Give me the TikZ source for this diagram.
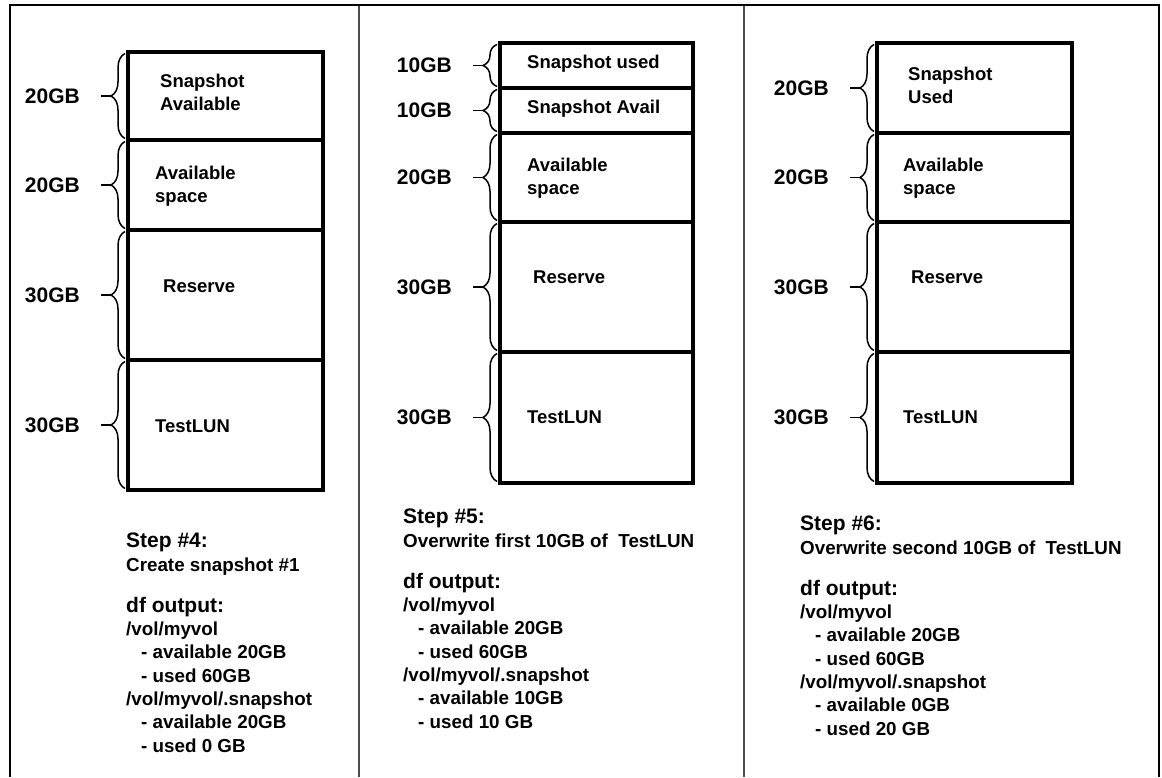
\documentclass[tikz,border=0pt]{standalone}
\usepackage{fontspec}
\setmainfont{Liberation Sans}
\usetikzlibrary{decorations.pathreplacing}

\tikzset{
  seg/.style={draw,line width=3.5pt,minimum width=195pt,anchor=north west,inner sep=0pt,outer sep=0pt},
  segtext/.style={anchor=west,inner sep=0pt,align=left,font=\fontsize{18.5}{23}\selectfont\bfseries},
  gb/.style={anchor=east,inner sep=0pt,font=\fontsize{21}{21}\selectfont\bfseries},
  hd/.style={anchor=base west,inner sep=0pt,font=\fontsize{21}{21}\selectfont\bfseries},
  ln/.style={anchor=base west,inner sep=0pt,font=\fontsize{18.8}{21}\selectfont\bfseries},
  brc/.style={decorate,decoration={brace,amplitude=14pt},line width=1.5pt},
}

\begin{document}
\begin{tikzpicture}[x=1pt,y=-1pt]
  \useasboundingbox (0,0) rectangle (1162,777);

  % frame and separators
  \draw[line width=2pt] (10,777) -- (10,5) -- (1159,5) -- (1159,777);
  \draw[line width=1.5pt,gray!60!black] (359,6) -- (359,777);
  \draw[line width=1.5pt,gray!60!black] (744,6) -- (744,777);

  % step 4
  \node[seg,minimum height=88pt] (a1) at (128,52) {};
  \node[seg,minimum height=90pt] (a2) at (a1.south west) {};
  \node[seg,minimum height=130pt] (a3) at (a2.south west) {};
  \node[seg,minimum height=130pt] (a4) at (a3.south west) {};
  \node[segtext] (a1t) at (160,92) {Snapshot\\Available};
  \node[segtext] (a2t) at (155,186) {Available\\space};
  \node[segtext] (a3t) at (163,286) {Reserve};
  \node[segtext] (a4t) at (155,426) {TestLUN};

  % step 5
  \node[seg,minimum width=193pt,minimum height=45pt] (b1) at (500,43) {};
  \node[seg,minimum width=193pt,minimum height=45pt] (b2) at (b1.south west) {};
  \node[seg,minimum width=193pt,minimum height=89pt] (b3) at (b2.south west) {};
  \node[seg,minimum width=193pt,minimum height=130pt] (b4) at (b3.south west) {};
  \node[seg,minimum width=193pt,minimum height=131pt] (b5) at (b4.south west) {};
  \node[segtext] (b1t) at (527,64) {Snapshot used};
  \node[segtext] (b2t) at (527,109) {Snapshot Avail};
  \node[segtext] (b3t) at (527,178) {Available\\space};
  \node[segtext] (b4t) at (533,277) {Reserve};
  \node[segtext] (b5t) at (527,417) {TestLUN};

  % step 6
  \node[seg,minimum height=90pt] (c1) at (877,43) {};
  \node[seg,minimum height=89pt] (c2) at (c1.south west) {};
  \node[seg,minimum height=130pt] (c3) at (c2.south west) {};
  \node[seg,minimum height=131pt] (c4) at (c3.south west) {};
  \node[segtext] (c1t) at (908,85) {Snapshot\\Used};
  \node[segtext] (c2t) at (903,178) {Available\\space};
  \node[segtext] (c3t) at (911,277) {Reserve};
  \node[segtext] (c4t) at (903,417) {TestLUN};

  % braces with sizes
  \foreach \s/\g in {a1/20GB,a2/20GB,a3/30GB,a4/30GB,
                     b1/10GB,b2/10GB,b3/20GB,b4/30GB,b5/30GB,
                     c1/20GB,c2/20GB,c3/30GB,c4/30GB}{
    \draw[brc] ([xshift=-3pt,yshift=1.5pt]\s.south west) -- ([xshift=-3pt,yshift=-1.5pt]\s.north west);
    \draw[line width=1.5pt] ([xshift=-17pt]\s.west) -- ([xshift=-27pt]\s.west);
    \node[gb] (\s l) at ([xshift=-48pt]\s.west) {\g};
  }

  % step 4 text
  \node[hd] (s4a) at (126,547) {Step \#4:};
  \node[ln] (s4b) at (126,571) {Create snapshot \#1};
  \node[hd] (s4c) at (126,612) {df output:};
  \node[ln] (s4d) at (126,635) {/vol/myvol};
  \node[ln] (s4e) at (141,658) {- available 20GB};
  \node[ln] (s4f) at (141,682) {- used 60GB};
  \node[ln] (s4g) at (126,705) {/vol/myvol/.snapshot};
  \node[ln] (s4h) at (141,728) {- available 20GB};
  \node[ln] (s4i) at (141,752) {- used 0 GB};

  % step 5 text
  \node[hd] (s5a) at (403,523) {Step \#5:};
  \node[ln] (s5b) at (403,547) {Overwrite first 10GB of \ TestLUN};
  \node[hd] (s5c) at (403,588) {df output:};
  \node[ln] (s5d) at (403,611) {/vol/myvol};
  \node[ln] (s5e) at (418,634) {- available 20GB};
  \node[ln] (s5f) at (418,658) {- used 60GB};
  \node[ln] (s5g) at (403,681) {/vol/myvol/.snapshot};
  \node[ln] (s5h) at (418,704) {- available 10GB};
  \node[ln] (s5i) at (418,728) {- used 10 GB};

  % step 6 text
  \node[hd] (s6a) at (800,530) {Step \#6:};
  \node[ln] (s6b) at (800,554) {Overwrite second 10GB of \ TestLUN};
  \node[hd] (s6c) at (800,595) {df output:};
  \node[ln] (s6d) at (800,618) {/vol/myvol};
  \node[ln] (s6e) at (815,641) {- available 20GB};
  \node[ln] (s6f) at (815,665) {- used 60GB};
  \node[ln] (s6g) at (800,688) {/vol/myvol/.snapshot};
  \node[ln] (s6h) at (815,711) {- available 0GB};
  \node[ln] (s6i) at (815,735) {- used 20 GB};
\end{tikzpicture}
\end{document}
